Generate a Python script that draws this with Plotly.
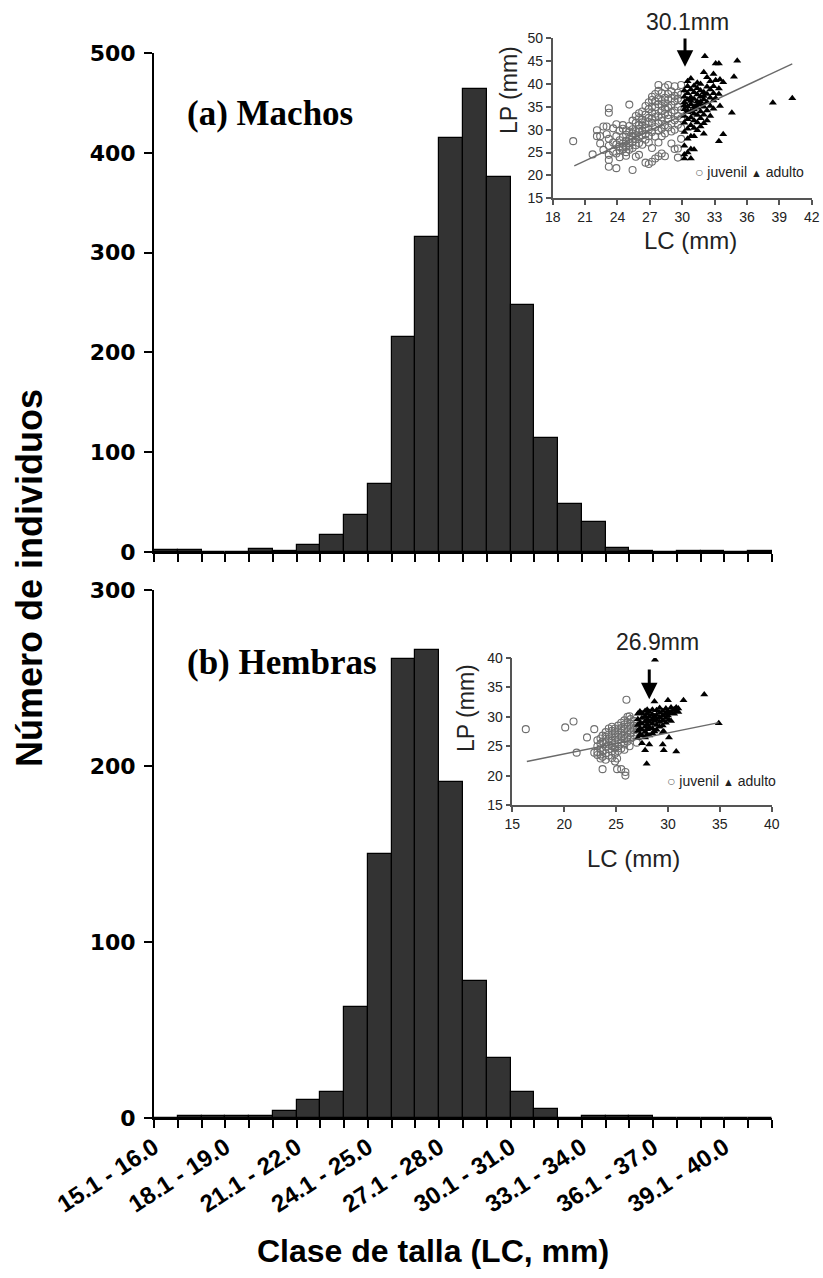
import plotly.graph_objects as go

# ---------------- data ----------------
class_labels = ["15.1 - 16.0", "16.1 - 17.0", "17.1 - 18.0", "18.1 - 19.0", "19.1 - 20.0",
                "20.1 - 21.0", "21.1 - 22.0", "22.1 - 23.0", "23.1 - 24.0", "24.1 - 25.0",
                "25.1 - 26.0", "26.1 - 27.0", "27.1 - 28.0", "28.1 - 29.0", "29.1 - 30.0",
                "30.1 - 31.0", "31.1 - 32.0", "32.1 - 33.0", "33.1 - 34.0", "34.1 - 35.0",
                "35.1 - 36.0", "36.1 - 37.0", "37.1 - 38.0", "38.1 - 39.0", "39.1 - 40.0",
                "40.1 - 41.0"]
machos = [2, 2, 0, 0, 3, 1, 7, 17, 37, 68, 215, 316, 415, 464, 376, 247, 114, 48, 30, 4, 1, 0, 1, 1, 0, 1]
hembras = [0, 1, 1, 1, 1, 4, 10, 15, 63, 150, 261, 266, 191, 78, 34, 15, 5, 0, 1, 1, 1, 0, 0, 0, 0, 0]

# inset (a) Machos: (LC, LP) pairs
a_juvenil = [
    (19.9, 27.5), (21.7, 24.6), (22.1, 28.6), (22.1, 29.9), (22.4, 27.0), (22.4, 28.6), (22.7, 30.7), (22.7, 25.6),
    (23.0, 29.0), (23.0, 30.7), (23.2, 34.7), (23.2, 33.7), (23.2, 24.5), (23.2, 23.4), (23.2, 21.9), (23.2, 28.0),
    (23.2, 26.5), (23.6, 30.3), (23.6, 25.2), (23.6, 27.2), (23.9, 21.6), (23.9, 24.8), (23.9, 26.8), (23.9, 28.6),
    (23.9, 31.2), (24.2, 25.5), (24.2, 27.7), (24.2, 29.8), (24.2, 24.0), (24.2, 26.4), (24.5, 31.0), (24.5, 27.0),
    (24.5, 25.8), (24.5, 28.4), (24.5, 30.2), (24.5, 26.1), (24.8, 29.9), (24.8, 27.5), (24.8, 26.3), (24.8, 25.1),
    (24.8, 28.9), (24.8, 24.3), (25.1, 35.5), (25.1, 28.0), (25.1, 27.1), (25.1, 29.6), (25.1, 26.5), (25.1, 30.8),
    (25.1, 25.6), (25.4, 21.2), (25.4, 28.5), (25.4, 30.1), (25.4, 27.3), (25.4, 32.0), (25.4, 26.0), (25.4, 29.2),
    (25.7, 24.1), (25.7, 29.7), (25.7, 31.5), (25.7, 27.9), (25.7, 33.0), (25.7, 28.8), (25.7, 26.6), (26.0, 32.5),
    (26.0, 30.2), (26.0, 28.4), (26.0, 24.5), (26.0, 29.5), (26.0, 31.0), (26.0, 27.1), (26.0, 33.6), (26.3, 28.8),
    (26.3, 30.9), (26.3, 32.2), (26.3, 29.8), (26.3, 26.7), (26.3, 34.0), (26.3, 31.6), (26.6, 31.2), (26.6, 29.0),
    (26.6, 33.3), (26.6, 27.8), (26.6, 35.2), (26.6, 30.5), (26.6, 22.8), (26.9, 22.5), (26.9, 30.0), (26.9, 32.6),
    (26.9, 34.5), (26.9, 28.6), (26.9, 36.0), (26.9, 31.7), (26.9, 27.2), (27.2, 23.0), (27.2, 31.5), (27.2, 33.8),
    (27.2, 36.5), (27.2, 29.5), (27.2, 35.0), (27.2, 32.4), (27.2, 37.2), (27.2, 26.0), (27.5, 23.7), (27.5, 32.8),
    (27.5, 34.9), (27.5, 30.6), (27.5, 37.8), (27.5, 28.5), (27.5, 36.2), (27.5, 33.5), (27.8, 39.8), (27.8, 24.2),
    (27.8, 31.4), (27.8, 35.6), (27.8, 33.0), (27.8, 38.5), (27.8, 29.8), (27.8, 36.9), (27.8, 27.2), (28.1, 38.0),
    (28.1, 34.1), (28.1, 31.9), (28.1, 36.3), (28.1, 30.2), (28.1, 35.2), (28.1, 32.7), (28.1, 28.6), (28.1, 24.8),
    (28.4, 39.3), (28.4, 24.2), (28.4, 33.5), (28.4, 37.0), (28.4, 35.8), (28.4, 31.0), (28.4, 34.6), (28.4, 29.2),
    (28.7, 39.8), (28.7, 36.6), (28.7, 32.4), (28.7, 34.9), (28.7, 30.5), (28.7, 37.8), (28.7, 33.2), (29.0, 38.4),
    (29.0, 35.4), (29.0, 31.3), (29.0, 33.8), (29.0, 36.9), (29.0, 29.6), (29.0, 27.0), (29.3, 39.5), (29.3, 25.8),
    (29.3, 34.2), (29.3, 36.2), (29.3, 32.1), (29.3, 37.4), (29.3, 30.0), (29.6, 25.9), (29.6, 23.9), (29.6, 35.0),
    (29.6, 38.1), (29.6, 33.0), (29.6, 36.8), (29.6, 31.1), (29.9, 39.8), (29.9, 34.3), (29.9, 36.4), (29.9, 32.5),
    (29.9, 37.7), (29.9, 30.4), (29.9, 28.0)]
a_adulto = [
    (30.2, 23.7), (30.2, 24.6), (30.2, 26.5), (30.2, 29.5), (30.2, 31.5), (30.2, 33.0), (30.2, 34.5), (30.2, 36.0),
    (30.2, 37.2), (30.2, 38.6), (30.2, 35.3), (30.5, 25.0), (30.5, 28.0), (30.5, 30.2), (30.5, 32.3), (30.5, 33.8),
    (30.5, 35.1), (30.5, 36.6), (30.5, 38.0), (30.5, 39.5), (30.5, 40.6), (30.5, 34.2), (30.8, 23.7), (30.8, 25.8),
    (30.8, 28.6), (30.8, 31.0), (30.8, 32.7), (30.8, 34.0), (30.8, 35.6), (30.8, 37.1), (30.8, 38.8), (30.8, 41.2),
    (30.8, 36.3), (31.1, 25.7), (31.1, 28.6), (31.1, 30.4), (31.1, 32.0), (31.1, 33.5), (31.1, 35.0), (31.1, 36.7),
    (31.1, 38.2), (31.1, 39.6), (31.1, 34.4), (31.4, 29.9), (31.4, 31.6), (31.4, 33.2), (31.4, 34.8), (31.4, 36.2),
    (31.4, 37.7), (31.4, 39.1), (31.4, 40.3), (31.4, 35.5), (31.7, 30.7), (31.7, 32.5), (31.7, 34.0), (31.7, 35.6),
    (31.7, 37.2), (31.7, 38.6), (31.7, 40.0), (31.7, 36.1), (32.0, 29.1), (32.0, 31.4), (32.0, 33.3), (32.0, 35.0),
    (32.0, 36.6), (32.0, 38.2), (32.0, 42.6), (32.0, 37.4), (32.1, 46.1), (32.3, 32.0), (32.3, 34.2), (32.3, 36.0),
    (32.3, 37.8), (32.3, 39.4), (32.3, 41.5), (32.6, 33.0), (32.6, 35.2), (32.6, 37.0), (32.6, 38.8), (32.6, 40.6),
    (32.9, 34.6), (32.9, 36.4), (32.9, 38.0), (32.9, 42.2), (32.9, 39.5), (33.1, 44.5), (33.1, 40.8), (33.1, 36.9),
    (33.4, 44.5), (33.4, 27.5), (33.4, 37.8), (33.4, 39.0), (33.5, 35.2), (33.5, 41.0), (33.8, 29.0), (33.8, 40.4),
    (34.6, 33.7), (34.8, 41.6), (35.1, 45.1), (38.4, 35.9), (40.2, 36.9)]
a_line_lc = [20.0, 40.2]
a_line_lp = [22.1, 44.4]

# inset (b) Hembras: (LC, LP) pairs
b_juvenil = [
    (16.3, 27.9), (20.1, 28.2), (20.9, 29.2), (21.2, 23.9), (22.2, 26.5), (22.9, 27.9), (22.9, 23.9), (23.2, 24.0),
    (23.2, 25.0), (23.2, 26.0), (23.2, 23.5), (23.5, 23.6), (23.5, 24.6), (23.5, 25.4), (23.5, 26.3), (23.5, 22.9),
    (23.7, 21.1), (23.7, 24.2), (23.7, 25.8), (23.7, 23.2), (23.7, 26.8), (24.0, 23.8), (24.0, 24.9), (24.0, 25.7),
    (24.0, 26.6), (24.0, 27.4), (24.0, 22.7), (24.3, 24.5), (24.3, 25.3), (24.3, 26.2), (24.3, 27.0), (24.3, 23.4),
    (24.3, 28.0), (24.6, 23.0), (24.6, 24.1), (24.6, 25.0), (24.6, 25.9), (24.6, 26.7), (24.6, 27.6), (24.6, 28.3),
    (24.9, 22.4), (24.9, 24.6), (24.9, 25.5), (24.9, 26.4), (24.9, 27.2), (24.9, 28.0), (24.9, 23.7), (25.1, 22.9),
    (25.1, 21.1), (25.2, 25.0), (25.2, 26.0), (25.2, 26.9), (25.2, 27.7), (25.2, 28.5), (25.2, 24.2), (25.5, 21.1),
    (25.5, 24.6), (25.5, 25.6), (25.5, 26.5), (25.5, 27.3), (25.5, 28.1), (25.5, 29.0), (25.8, 25.3), (25.8, 26.2),
    (25.8, 27.0), (25.8, 27.9), (25.8, 28.7), (25.8, 29.4), (25.8, 24.4), (25.9, 20.6), (25.9, 20.0), (26.0, 32.9),
    (26.1, 25.8), (26.1, 26.6), (26.1, 27.5), (26.1, 28.3), (26.1, 29.1), (26.1, 30.0), (26.3, 30.1), (26.3, 25.0),
    (26.4, 26.3), (26.4, 27.2), (26.4, 28.0), (26.4, 28.8), (26.4, 29.6), (26.7, 26.9), (26.7, 27.7), (26.7, 28.5),
    (26.7, 29.3), (27.0, 27.3), (27.0, 28.1), (27.0, 28.9), (27.0, 25.6)]
b_adulto = [
    (27.1, 26.4), (27.1, 27.6), (27.1, 28.6), (27.1, 29.6), (27.1, 30.5), (27.3, 30.9), (27.3, 27.0), (27.3, 28.0),
    (27.3, 29.0), (27.5, 25.5), (27.5, 26.8), (27.5, 27.8), (27.5, 28.8), (27.5, 29.8), (27.5, 30.6), (27.8, 24.3),
    (27.8, 26.5), (27.8, 27.4), (27.8, 28.3), (27.8, 29.2), (27.8, 30.1), (27.8, 31.0), (27.95, 22.0), (28.0, 27.0),
    (28.0, 27.9), (28.0, 28.7), (28.0, 29.6), (28.0, 30.5), (28.0, 31.2), (28.2, 25.3), (28.2, 26.8), (28.2, 28.2),
    (28.2, 29.1), (28.2, 30.0), (28.2, 30.8), (28.5, 27.2), (28.5, 28.0), (28.5, 28.8), (28.5, 29.6), (28.5, 30.4),
    (28.5, 31.2), (28.7, 32.6), (28.7, 27.5), (28.7, 29.3), (28.7, 30.1), (28.75, 39.7), (28.9, 27.8), (28.9, 28.6),
    (28.9, 29.5), (28.9, 30.3), (28.9, 31.1), (29.2, 28.3), (29.2, 29.1), (29.2, 29.9), (29.2, 30.7), (29.2, 31.5),
    (29.5, 25.3), (29.5, 28.5), (29.5, 29.4), (29.5, 30.2), (29.5, 31.0), (29.5, 27.4), (29.6, 24.3), (29.6, 27.5),
    (29.8, 29.0), (29.8, 29.8), (29.8, 30.6), (29.8, 31.4), (30.0, 32.8), (30.0, 30.2), (30.0, 31.0), (30.1, 26.5),
    (30.1, 29.5), (30.1, 30.6), (30.3, 29.3), (30.3, 30.8), (30.3, 31.6), (30.6, 30.5), (30.6, 31.3), (30.8, 24.1),
    (30.8, 31.0), (30.8, 31.6), (31.0, 30.8), (31.0, 31.4), (31.5, 32.8), (33.5, 33.8), (34.9, 28.9)]
b_line_lc = [16.4, 34.9]
b_line_lp = [22.4, 29.0]

# ---------------- figure ----------------
W, H = 823, 1278
def px(x):
    return x / W
def py(y):
    return 1 - y / H

fig = go.Figure()
bar_style = dict(marker=dict(color="#333333", line=dict(color="#000000", width=1.2)), width=1.0, showlegend=False)
idx = list(range(len(class_labels)))
fig.add_trace(go.Bar(x=idx, y=machos, xaxis="x", yaxis="y", **bar_style))
fig.add_trace(go.Bar(x=idx, y=hembras, xaxis="x2", yaxis="y2", **bar_style))

juv_marker = dict(symbol="circle-open", size=7, color="#6e6e6e", line=dict(width=1.1))
adu_marker = dict(symbol="triangle-up", size=7, color="#000000")
for pts, ax, mk in [(a_juvenil, "3", juv_marker), (a_adulto, "3", adu_marker),
                    (b_juvenil, "4", juv_marker), (b_adulto, "4", adu_marker)]:
    fig.add_trace(go.Scatter(x=[p[0] for p in pts], y=[p[1] for p in pts], mode="markers",
                             marker=mk, xaxis="x" + ax, yaxis="y" + ax, showlegend=False))
fig.add_trace(go.Scatter(x=a_line_lc, y=a_line_lp, mode="lines", line=dict(color="#6a6a6a", width=1.4),
                         xaxis="x3", yaxis="y3", showlegend=False))
fig.add_trace(go.Scatter(x=b_line_lc, y=b_line_lp, mode="lines", line=dict(color="#6a6a6a", width=1.4),
                         xaxis="x4", yaxis="y4", showlegend=False))

bounds = [i - 0.5 for i in range(len(class_labels) + 1)]
bottom_text = [class_labels[i] if (i < len(class_labels) and i % 3 == 0) else "" for i in range(len(bounds))]
hist_x_common = dict(range=[-0.5, len(class_labels) - 0.5], showline=True, linecolor="black", linewidth=2,
                     ticks="outside", ticklen=8, tickwidth=2, tickcolor="black", tickmode="array",
                     tickvals=bounds, showgrid=False, zeroline=False, fixedrange=True, automargin=False)
hist_y_common = dict(showline=True, linecolor="black", linewidth=2, ticks="outside", ticklen=8, tickwidth=2,
                     tickcolor="black", showgrid=False, zeroline=False, automargin=False, ticklabelstandoff=4,
                     tickfont=dict(family="DejaVu Sans", size=22, color="black", weight="bold"))

inset_tickfont = dict(family="Liberation Sans", size=14, color="#222222")
inset_axis = dict(showline=True, linecolor="#555555", linewidth=1.5, ticks="outside", ticklen=5, tickwidth=1.5,
                  tickcolor="#555555", showgrid=False, zeroline=False, tickfont=inset_tickfont, automargin=False)

fig.update_layout(
    width=W, height=H, margin=dict(l=0, r=0, t=0, b=0, autoexpand=False), autosize=False,
    paper_bgcolor="white", plot_bgcolor="rgba(0,0,0,0)", bargap=0,
    xaxis=dict(domain=[px(154), px(772)], anchor="y", ticktext=[""] * len(bounds), **hist_x_common),
    yaxis=dict(domain=[py(552), py(53)], anchor="x", range=[0, 500], tickvals=[0, 100, 200, 300, 400, 500],
               **hist_y_common),
    xaxis2=dict(domain=[px(154), px(772)], anchor="y2", ticktext=bottom_text, tickangle=-33,
                ticklabelstandoff=-4,
                tickfont=dict(family="Liberation Sans", size=24, color="black", weight="bold"), **hist_x_common),
    yaxis2=dict(domain=[py(1118), py(590)], anchor="x2", range=[0, 300], tickvals=[0, 100, 200, 300],
                **hist_y_common),
    xaxis3=dict(domain=[px(552.7), px(811.7)], anchor="y3", range=[18, 42], tickvals=list(range(18, 43, 3)),
                **inset_axis),
    yaxis3=dict(domain=[py(198.3), py(38.3)], anchor="x3", range=[15, 50], tickvals=list(range(15, 51, 5)),
                **inset_axis),
    xaxis4=dict(domain=[px(512.3), px(771.7)], anchor="y4", range=[15, 40], tickvals=list(range(15, 41, 5)),
                **inset_axis),
    yaxis4=dict(domain=[py(805), py(658)], anchor="x4", range=[15, 40], tickvals=list(range(15, 41, 5)),
                **inset_axis),
)

ann = []
def note(text, x, y, size, family="Liberation Sans", color="black", weight="normal", angle=0, xanchor="center"):
    ann.append(dict(text=text, x=px(x), y=py(y), xref="paper", yref="paper", textangle=angle,
                    xanchor=xanchor, yanchor="middle", showarrow=False,
                    font=dict(size=size, family=family, color=color, weight=weight)))

note("Número de individuos", 29, 578, 36, weight="bold", angle=-90)
note("Clase de talla (LC, mm)", 433, 1251, 32, weight="bold")
note("(a) Machos", 185, 114, 35, family="Liberation Serif", weight="bold", xanchor="left")
note("(b) Hembras", 185, 662, 35, family="Liberation Serif", weight="bold", xanchor="left")
# inset a labels
note("30.1mm", 687, 22, 23, color="#222222")
note("LP (mm)", 509, 90, 23, color="#222222", angle=-90)
note("LC (mm)", 690, 240, 24, color="#222222")
# inset b labels
note("26.9mm", 657, 642, 23, color="#222222")
note("LP (mm)", 466, 708, 23, color="#222222", angle=-90)
note("LC (mm)", 633, 858, 24, color="#222222")

legend_text = "<span style='color:#6e6e6e'>○</span> juvenil <span style='font-size:11px'>▲</span> adulto"
ann.append(dict(text=legend_text, x=31.0, y=20.7, xref="x3", yref="y3", xanchor="left", yanchor="middle",
                showarrow=False, font=dict(size=14, family="Liberation Sans Narrow, Liberation Sans", color="#222")))
ann.append(dict(text=legend_text, x=29.7, y=19.0, xref="x4", yref="y4", xanchor="left", yanchor="middle",
                showarrow=False, font=dict(size=14, family="Liberation Sans Narrow, Liberation Sans", color="#222")))
# arrows pointing at the maturity size
ann.append(dict(text="", x=30.26, y=43.8, ax=30.26, ay=50.3, xref="x3", yref="y3", axref="x3", ayref="y3",
                showarrow=True, arrowhead=2, arrowsize=1.1, arrowwidth=3, arrowcolor="black"))
ann.append(dict(text="", x=28.2, y=33.0, ax=28.2, ay=38.3, xref="x4", yref="y4", axref="x4", ayref="y4",
                showarrow=True, arrowhead=2, arrowsize=1.1, arrowwidth=3, arrowcolor="black"))
fig.update_layout(annotations=ann)

fig.write_html("out.html")
